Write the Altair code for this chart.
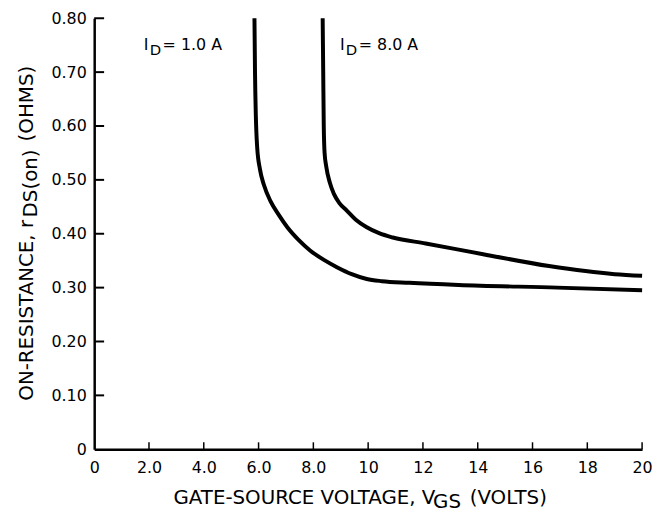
import altair as alt
import pandas as pd

# ---- data ----
vgs_1a = [5.85, 5.87, 5.90, 5.95, 6.05, 6.20, 6.44, 6.75, 7.05, 7.45, 7.88, 8.40, 8.86, 9.40,
          9.95, 10.5, 11.5, 13.3, 16.9, 20.0]
r_1a = [0.80, 0.70, 0.62, 0.56, 0.52, 0.49, 0.46, 0.434, 0.412, 0.389, 0.369, 0.351, 0.338, 0.325,
        0.316, 0.312, 0.309, 0.305, 0.300, 0.295]
vgs_8a = [8.34, 8.36, 8.38, 8.41, 8.47, 8.60, 8.75, 8.95, 9.22, 9.55, 9.95, 10.4, 10.9, 12.1,
          14.2, 16.6, 19.0, 20.0]
r_8a = [0.80, 0.70, 0.60, 0.55, 0.525, 0.495, 0.474, 0.457, 0.443, 0.426, 0.412, 0.401, 0.393, 0.382,
        0.362, 0.340, 0.325, 0.322]

x_ticks = [0, 2, 4, 6, 8, 10, 12, 14, 16, 18, 20]
y_ticks = [0, 0.1, 0.2, 0.3, 0.4, 0.5, 0.6, 0.7, 0.8]

label_names = ["1.0 A", "8.0 A"]
label_x = [1.81, 8.97]
label_y = [0.750, 0.750]

x_title_parts = ["GATE-SOURCE VOLTAGE, V", "GS", " (VOLTS)"]
y_title_parts = ["ON-RESISTANCE, r", "DS(on)", " (OHMS)"]

FONT = "DejaVu Sans"

rows = []
for name, xs, ys in [("1.0 A", vgs_1a, r_1a), ("8.0 A", vgs_8a, r_8a)]:
    for i, (a, b) in enumerate(zip(xs, ys)):
        rows.append({"series": name, "vgs": a, "r": b, "order": i})
curves = pd.DataFrame(rows)

xscale = alt.Scale(domain=[0, 20], nice=False, zero=False)
yscale = alt.Scale(domain=[0, 0.8], nice=False, zero=False)

lines = alt.Chart(curves).mark_line(color="black", strokeWidth=4, interpolate="monotone").encode(
    x=alt.X("vgs:Q", scale=xscale, axis=alt.Axis(
        values=x_ticks, title=None, labelFlush=False, labelOverlap=False,
        labelExpr="datum.value == 0 ? '0' : (datum.value < 10 ? format(datum.value, '.1f') : format(datum.value, 'd'))")),
    y=alt.Y("r:Q", scale=yscale, axis=alt.Axis(
        values=y_ticks, title=None, labelOverlap=False,
        labelExpr="datum.value == 0 ? '0' : format(datum.value, '.2f')")),
    detail="series:N",
    order="order:Q",
)

ytick_df = pd.DataFrame({"v": y_ticks[1:]})
yticks = alt.Chart(ytick_df).mark_rule(color="black", strokeWidth=2).encode(
    y=alt.Y("v:Q", scale=yscale, title=None),
    x=alt.value(0), x2=alt.value(10),
)
xtick_df = pd.DataFrame({"v": x_ticks[1:]})
xticks = alt.Chart(xtick_df).mark_rule(color="black", strokeWidth=1.5).encode(
    x=alt.X("v:Q", scale=xscale, title=None),
    y=alt.value(435), y2=alt.value(428),
)

lab_df = pd.DataFrame({"name": label_names, "lx": label_x, "ly": label_y,
                       "rest": ["= " + n for n in label_names]})
lab_enc = dict(x=alt.X("lx:Q", scale=xscale, title=None), y=alt.Y("ly:Q", scale=yscale, title=None))
lab_i = alt.Chart(lab_df).mark_text(font=FONT, fontSize=16, align="left", color="black").encode(
    text=alt.value("I"), **lab_enc)
lab_d = alt.Chart(lab_df).mark_text(font=FONT, fontSize=15, align="left", dx=6, dy=5, color="black").encode(
    text=alt.value("D"), **lab_enc)
lab_rest = alt.Chart(lab_df).mark_text(font=FONT, fontSize=16, align="left", dx=19, color="black").encode(
    text="rest:N", **lab_enc)

one = pd.DataFrame({"k": [0]})


def piece(text, px, py, angle=0, align="left"):
    return alt.Chart(one).mark_text(font=FONT, fontSize=20, align=align, color="black",
                                    angle=angle).encode(
        x=alt.value(px), y=alt.value(py), text=alt.value(text))


title_layers = [
    piece(x_title_parts[0], 80, 484),
    piece(x_title_parts[1], 342, 488),
    piece(x_title_parts[2], 379, 484),
    piece(y_title_parts[0], -68, 386, 270),
    piece(y_title_parts[1], -64, 201, 270),
    piece(y_title_parts[2], -68, 48, 270, "right"),
]

chart = alt.layer(lines, yticks, xticks, lab_i, lab_d, lab_rest, *title_layers).properties(
    width=553, height=435,
    autosize=alt.AutoSizeParams(type="none"),
    padding={"left": 87, "top": 8, "right": 10, "bottom": 62},
).configure_axis(
    domainColor="black", domainWidth=2.5, ticks=False, tickSize=0, grid=False,
    labelFont=FONT, labelFontSize=16, labelColor="black",
).configure_axisX(labelPadding=10).configure_axisY(labelPadding=8).configure_view(stroke=None)

chart.save("out.html", embed_options={"renderer": "svg", "actions": False})
